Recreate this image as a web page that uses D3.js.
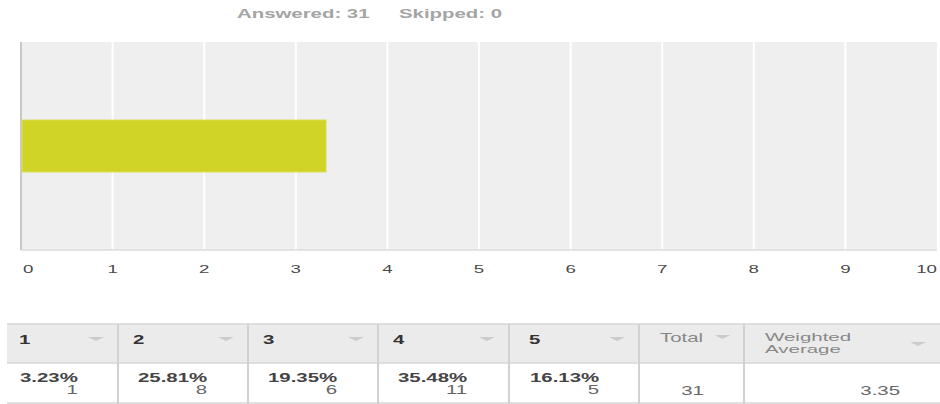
<!DOCTYPE html>
<html>
<head>
<meta charset="utf-8">
<script src="https://cdn.jsdelivr.net/npm/d3@7"></script>
<style>
  html, body { margin: 0; padding: 0; background: #fff; }
  svg { display: block; }
  text { font-family: Arial, "Liberation Sans", sans-serif; }
</style>
</head>
<body>
<svg id="chart" width="940" height="404"></svg>
<script>
// ---- data ----
const answered = 31;
const skipped = 0;
const categories = ["Rating"];
const barValues = [3.33];
const xTicks = [0, 1, 2, 3, 4, 5, 6, 7, 8, 9, 10];
const answerChoices = ["1", "2", "3", "4", "5"];
const percents = ["3.23%", "25.81%", "19.35%", "35.48%", "16.13%"];
const counts = [1, 8, 6, 11, 5];
const totalLabel = "Total";
const weightedLabel = ["Weighted", "Average"];
const totalValue = 31;
const weightedAverage = "3.35";

// ---- layout ----
const SX = 1.7; // horizontal stretch of text seen in the reference
const svg = d3.select("#chart");
const plot = { left: 21, right: 937, top: 42, bottom: 250 };

const x = d3.scaleLinear().domain([0, 10]).range([plot.left, plot.right]);
const y = d3.scaleBand().domain(categories).range([plot.top, plot.bottom]).padding(0.6);

function txt(g, px, py, str, o) {
  o = o || {};
  const sx = o.sx || SX;
  return g.append("text")
    .attr("transform", `translate(${px},${py}) scale(${sx},1)`)
    .attr("text-anchor", o.anchor || "start")
    .attr("font-size", o.size || 12)
    .attr("font-weight", o.weight || "normal")
    .attr("fill", o.fill || "#333")
    .text(str);
}

// title
txt(svg, 237, 17.5, `Answered: ${answered}`, { weight: "bold", fill: "#a4a4a4" });
txt(svg, 399, 17.5, `Skipped: ${skipped}`, { weight: "bold", fill: "#a4a4a4" });

// plot background
svg.append("rect")
  .attr("x", plot.left).attr("y", plot.top)
  .attr("width", plot.right - plot.left).attr("height", plot.bottom - plot.top)
  .attr("fill", "#efefef");

// gridlines
svg.append("g").selectAll("line")
  .data(xTicks.filter(t => t > 0 && t < 10))
  .join("line")
  .attr("x1", d => x(d)).attr("x2", d => x(d))
  .attr("y1", plot.top).attr("y2", plot.bottom)
  .attr("stroke", "#ffffff").attr("stroke-width", 2);

// bottom and left axis lines
svg.append("line")
  .attr("x1", plot.left).attr("x2", plot.right)
  .attr("y1", plot.bottom).attr("y2", plot.bottom)
  .attr("stroke", "#dcdcdc").attr("stroke-width", 1.5);
svg.append("line")
  .attr("x1", plot.left).attr("x2", plot.left)
  .attr("y1", plot.top).attr("y2", plot.bottom)
  .attr("stroke", "#c8c8c8").attr("stroke-width", 2);

// bar
svg.append("g").selectAll("rect")
  .data(barValues)
  .join("rect")
  .attr("x", x(0) + 1)
  .attr("y", (d, i) => y(categories[i]))
  .attr("width", d => x(d) - x(0) - 1)
  .attr("height", y.bandwidth())
  .attr("fill", "#d0d426")
  .attr("stroke", "#d9dd55").attr("stroke-width", 1);

// tick labels
const tickG = svg.append("g");
xTicks.forEach(t => {
  let anchor = "middle", px = x(t);
  if (t === 0) { anchor = "start"; px = x(t) + 2; }
  if (t === 10) { anchor = "end"; px = x(t); }
  txt(tickG, px, 273, String(t), { size: 11, fill: "#4a4a4a", anchor });
});

// ---- table ----
const colEdges = [7, 118, 248, 378, 509, 639, 744, 940];
const tTop = 324, tMid = 363, tBot = 403;
const tbl = svg.append("g");
tbl.append("rect").attr("x", colEdges[0]).attr("y", tTop)
  .attr("width", 940 - colEdges[0]).attr("height", tMid - tTop).attr("fill", "#ebebeb");
tbl.append("rect").attr("x", colEdges[0]).attr("y", tMid)
  .attr("width", 940 - colEdges[0]).attr("height", tBot - tMid).attr("fill", "#ffffff");
[tTop, tMid, tBot].forEach(yy => {
  tbl.append("line").attr("x1", colEdges[0]).attr("x2", 940)
    .attr("y1", yy).attr("y2", yy).attr("stroke", "#d6d6d6").attr("stroke-width", 1.5);
});
colEdges.slice(1, -1).forEach(xx => {
  tbl.append("line").attr("x1", xx).attr("x2", xx)
    .attr("y1", tTop).attr("y2", tBot + 1).attr("stroke", "#d2d2d2").attr("stroke-width", 2);
});

function arrow(cx, cy) {
  tbl.append("path")
    .attr("d", `M${cx - 8},${cy - 2} L${cx + 8},${cy - 2} L${cx},${cy + 2} Z`)
    .attr("fill", "#cbcbcb");
}

const headX = [19, 133, 263, 393, 529];
const pctX = [20, 138, 268, 398, 530];
answerChoices.forEach((c, i) => {
  txt(tbl, headX[i], 344, c, { weight: "bold", fill: "#333" });
  arrow(colEdges[i + 1] - 22, 339);
  const p = txt(tbl, pctX[i], 381.5, percents[i], { weight: "bold", fill: "#444" });
  const w = p.node().getComputedTextLength() * SX;
  txt(tbl, pctX[i] + w, 393.5, String(counts[i]), { fill: "#666", anchor: "end" });
});

txt(tbl, 660, 341.7, totalLabel, { fill: "#888" });
arrow(722.5, 337);
txt(tbl, 765, 340.8, weightedLabel[0], { fill: "#888", size: 10.5, sx: 1.95 });
txt(tbl, 765, 353, weightedLabel[1], { fill: "#888", size: 10.5, sx: 1.95 });
arrow(918, 344);

txt(tbl, 692.5, 395, String(totalValue), { fill: "#666", anchor: "middle" });
txt(tbl, 900, 395, weightedAverage, { fill: "#666", anchor: "end" });
</script>
</body>
</html>
